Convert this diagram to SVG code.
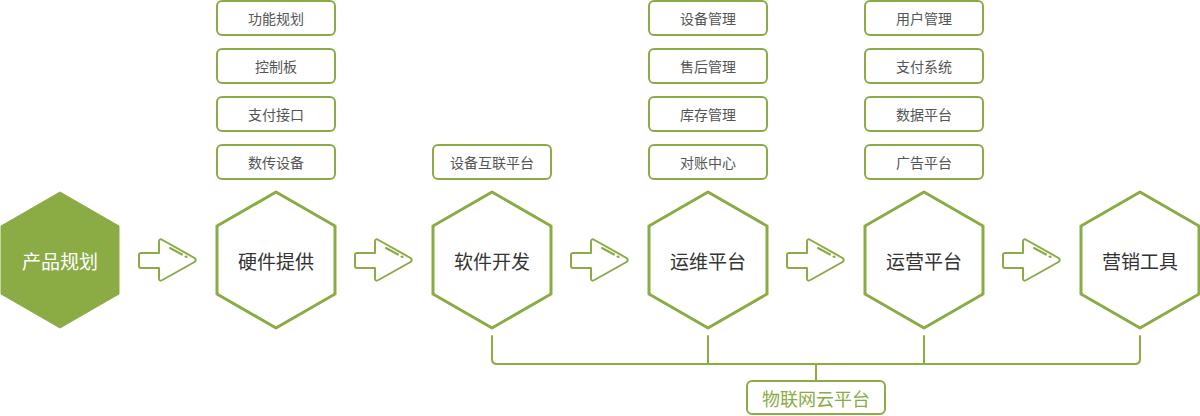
<svg xmlns="http://www.w3.org/2000/svg" width="1200" height="416" viewBox="0 0 1200 416">
<defs>
<style>
.hex{fill:#fff;stroke:#8bab45;stroke-width:3;stroke-linejoin:round}
.hexf{fill:#8bab45;stroke:#8bab45;stroke-width:1;stroke-linejoin:round}
.box{fill:#fff;stroke:#8bab45;stroke-width:2}
.bt{font-family:"Noto Sans CJK SC","Noto Sans",sans-serif;font-size:14px;fill:#555;text-anchor:middle;dominant-baseline:central}
.ht{font-family:"Noto Sans CJK SC","Noto Sans",sans-serif;font-size:19px;fill:#333;text-anchor:middle;dominant-baseline:central}
.arrow{fill:#fff;stroke:#8bab45;stroke-width:2;stroke-linejoin:round}
.line{fill:none;stroke:#8bab45;stroke-width:2;stroke-linecap:round}
</style>
<g id="arr">
<path class="arrow" d="M141,253 L159,253 L159,242 Q159,238 162.5,240 L194.5,258 Q197,260 194.5,262 L162.5,280 Q159,282 159,278 L159,268 L141,268 Q139,268 139,266 L139,255 Q139,253 141,253 Z"/>
<path class="line" d="M170,248 L182,254.5 M185.5,256.5 L186.5,257" stroke-width="1.5"/>
</g>
<path id="hexp" d="M0,-68 L59,-34 L59,34 L0,68 L-59,34 L-59,-34 Z"/>
</defs>
<rect width="1200" height="416" fill="#fff"/>

<g id="connectors">
<use href="#arr"/>
<use href="#arr" x="216"/>
<use href="#arr" x="432"/>
<use href="#arr" x="648"/>
<use href="#arr" x="864"/>
<path class="line" d="M492,336 L492,359 Q492,364 497,364 L1135,364 Q1140,364 1140,359 L1140,336"/>
<path class="line" d="M708,336 L708,364 M924,336 L924,364 M816,364 L816,380"/>
</g>

<g id="n1"><use href="#hexp" x="60" y="260" class="hexf"/><text class="ht" x="60" y="260" style="fill:#fff">产品规划</text></g>
<g id="n2"><use href="#hexp" x="276" y="260" class="hex"/><text class="ht" x="276" y="260">硬件提供</text></g>
<g id="n3"><use href="#hexp" x="492" y="260" class="hex"/><text class="ht" x="492" y="260">软件开发</text></g>
<g id="n4"><use href="#hexp" x="708" y="260" class="hex"/><text class="ht" x="708" y="260">运维平台</text></g>
<g id="n5"><use href="#hexp" x="924" y="260" class="hex"/><text class="ht" x="924" y="260">运营平台</text></g>
<g id="n6"><use href="#hexp" x="1140" y="260" class="hex"/><text class="ht" x="1140" y="260">营销工具</text></g>

<g id="b2a"><rect class="box" x="217" y="1" width="118" height="34" rx="5"/><text class="bt" x="276" y="18">功能规划</text></g>
<g id="b2b"><rect class="box" x="217" y="49" width="118" height="34" rx="5"/><text class="bt" x="276" y="66">控制板</text></g>
<g id="b2c"><rect class="box" x="217" y="97" width="118" height="34" rx="5"/><text class="bt" x="276" y="114">支付接口</text></g>
<g id="b2d"><rect class="box" x="217" y="145" width="118" height="34" rx="5"/><text class="bt" x="276" y="162">数传设备</text></g>

<g id="b3a"><rect class="box" x="433" y="145" width="118" height="34" rx="5"/><text class="bt" x="492" y="162">设备互联平台</text></g>

<g id="b4a"><rect class="box" x="649" y="1" width="118" height="34" rx="5"/><text class="bt" x="708" y="18">设备管理</text></g>
<g id="b4b"><rect class="box" x="649" y="49" width="118" height="34" rx="5"/><text class="bt" x="708" y="66">售后管理</text></g>
<g id="b4c"><rect class="box" x="649" y="97" width="118" height="34" rx="5"/><text class="bt" x="708" y="114">库存管理</text></g>
<g id="b4d"><rect class="box" x="649" y="145" width="118" height="34" rx="5"/><text class="bt" x="708" y="162">对账中心</text></g>

<g id="b5a"><rect class="box" x="865" y="1" width="118" height="34" rx="5"/><text class="bt" x="924" y="18">用户管理</text></g>
<g id="b5b"><rect class="box" x="865" y="49" width="118" height="34" rx="5"/><text class="bt" x="924" y="66">支付系统</text></g>
<g id="b5c"><rect class="box" x="865" y="97" width="118" height="34" rx="5"/><text class="bt" x="924" y="114">数据平台</text></g>
<g id="b5d"><rect class="box" x="865" y="145" width="118" height="34" rx="5"/><text class="bt" x="924" y="162">广告平台</text></g>

<g id="cloud"><rect class="box" x="747" y="381" width="138" height="33" rx="5"/><text class="bt" x="816" y="397.5" style="font-size:18px;fill:#8bab45">物联网云平台</text></g>
</svg>
